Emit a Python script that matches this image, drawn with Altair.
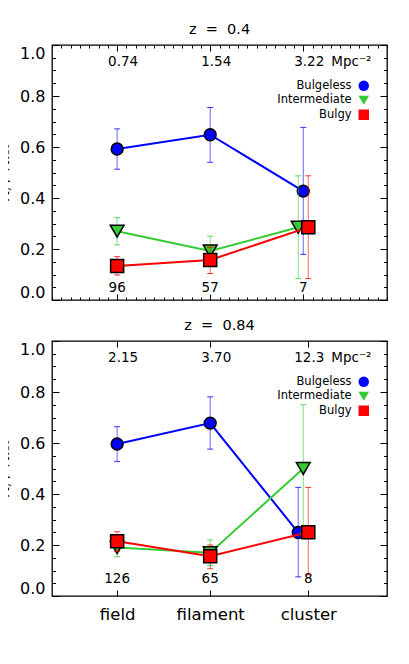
import altair as alt
import pandas as pd

series = ["Bulgeless", "Intermediate", "Bulgy"]
series_colors = ["#0000ff", "#33cc33", "#ff0000"]
series_shapes = ["circle", "triangle-down", "square"]
marker_sizes = [140, 190, 170]
categories = ["field", "filament", "cluster"]

# ---- z = 0.4 ----
z04_x_bulgeless = [1.0, 2.0, 3.0]
z04_y_bulgeless = [0.592, 0.648, 0.427]
z04_lo_bulgeless = [0.513, 0.540, 0.179]
z04_hi_bulgeless = [0.671, 0.755, 0.677]
z04_x_intermediate = [1.0, 2.0, 2.946]
z04_y_intermediate = [0.270, 0.192, 0.285]
z04_lo_intermediate = [0.216, 0.140, 0.084]
z04_hi_intermediate = [0.323, 0.250, 0.487]
z04_x_bulgy = [1.0, 2.0, 3.054]
z04_y_bulgy = [0.133, 0.157, 0.285]
z04_lo_bulgy = [0.098, 0.104, 0.084]
z04_hi_bulgy = [0.170, 0.207, 0.487]
z04_counts = ["96", "57", "7"]
z04_count_x = [1.0, 2.0, 3.0]
z04_density = ["0.74", "1.54", "3.22"]
z04_cat_x = [1.0, 2.0, 3.0]

# ---- z = 0.84 ----
z084_x_bulgeless = [1.0, 2.0, 2.946]
z084_y_bulgeless = [0.596, 0.678, 0.249]
z084_lo_bulgeless = [0.527, 0.576, 0.075]
z084_hi_bulgeless = [0.664, 0.781, 0.426]
z084_x_intermediate = [1.0, 2.0, 3.0]
z084_y_intermediate = [0.190, 0.170, 0.500]
z084_lo_intermediate = [0.154, 0.120, 0.250]
z084_hi_intermediate = [0.220, 0.220, 0.750]
z084_x_bulgy = [1.0, 2.0, 3.054]
z084_y_bulgy = [0.215, 0.156, 0.250]
z084_lo_bulgy = [0.175, 0.107, 0.083]
z084_hi_bulgy = [0.252, 0.200, 0.426]
z084_counts = ["126", "65", "8"]
z084_count_x = [1.0, 2.0, 3.054]
z084_density = ["2.15", "3.70", "12.3"]
z084_cat_x = [1.0, 2.0, 3.054]

density_x = [1.0, 2.0, 3.0]
density_unit = "Mpc\u207b\u00b2"
y_title = "N\u2c7c / N\u209c\u2092\u209c"

W, H = 335, 255
xsc = alt.Scale(domain=[0.3, 3.9], nice=False, zero=False)
ysc = alt.Scale(domain=[0.0, 1.0], nice=False, zero=False)

y_tick_vals = [round(i * 0.05, 2) for i in range(21)]
y_major = "abs(datum.value*5 - round(datum.value*5)) < 0.001"
x_minor_vals = [round(0.3 + i * 0.1, 2) for i in range(37)]


def frame_axes(df, cat_x, minor_x, show_labels):
    base = alt.Chart(df).mark_point(opacity=0)
    tick_common = dict(labels=False, domain=False, grid=False, title=None,
                       tickColor="black", tickWidth=1)
    yt = {"condition": {"test": y_major, "value": 7}, "value": 3.5}
    layers = []
    layers.append(base.encode(
        x=alt.X("x:Q", scale=xsc, axis=None),
        y=alt.Y("y:Q", scale=ysc, axis=alt.Axis(
            orient="left", values=[0, 0.2, 0.4, 0.6, 0.8, 1.0], format=".1f",
            ticks=False, tickSize=0, domain=False, grid=False, labelFlush=True,
            labelPadding=7, labelFontSize=16, labelColor="black",
            title=y_title, titleFontSize=16, titleFontWeight="normal",
            titlePadding=8, titleColor="black"))))
    layers.append(base.encode(
        x=alt.X("x:Q", scale=xsc, axis=None),
        y=alt.Y("y:Q", scale=ysc, axis=alt.Axis(
            orient="right", offset=-W, values=y_tick_vals, tickSize=yt, **tick_common))))
    layers.append(base.encode(
        x=alt.X("x:Q", scale=xsc, axis=None),
        y=alt.Y("y:Q", scale=ysc, axis=alt.Axis(
            orient="left", offset=-W, values=y_tick_vals, tickSize=yt, **tick_common))))
    if minor_x:
        xvals = sorted(set(x_minor_vals) | set(cat_x))
        cx = " || ".join(f"abs(datum.value - {v}) < 0.001" for v in cat_x)
        xt = {"condition": {"test": cx, "value": 6}, "value": 3}
    else:
        xvals = cat_x
        xt = 6
    layers.append(base.encode(
        y=alt.Y("y:Q", scale=ysc, axis=None),
        x=alt.X("x:Q", scale=xsc, axis=alt.Axis(
            orient="top", offset=-H, values=xvals, tickSize=xt, **tick_common))))
    layers.append(base.encode(
        y=alt.Y("y:Q", scale=ysc, axis=None),
        x=alt.X("x:Q", scale=xsc, axis=alt.Axis(
            orient="bottom", offset=-H, values=xvals, tickSize=xt, **tick_common))))
    if show_labels:
        expr = "datum.value < 1.5 ? '%s' : datum.value < 2.5 ? '%s' : '%s'" % tuple(categories)
        layers.append(base.encode(
            y=alt.Y("y:Q", scale=ysc, axis=None),
            x=alt.X("x:Q", scale=xsc, axis=alt.Axis(
                orient="bottom", values=cat_x, labelExpr=expr, ticks=False,
                tickSize=0, domain=False, grid=False, labelFlush=False,
                labelPadding=10, labelFontSize=16.5, labelColor="black",
                title=None))))
    return layers


def panel(title, data, counts, count_x, density, cat_x, count_y, minor_x, show_labels):
    dfs = []
    for s, (xs, ys, los, his) in zip(series, data):
        dfs.append(pd.DataFrame({"series": s, "x": xs, "y": ys, "lo": los, "hi": his}))
    legend = alt.Legend(orient="none", legendX=306, legendY=35, title=None,
                        labelAlign="right", labelOffset={"expr": "-18"}, labelFontSize=11.5,
                        labelColor="black", symbolSize=110, symbolStrokeWidth=0,
                        rowPadding=1.5)
    layers = frame_axes(dfs[0], cat_x, minor_x, show_labels)
    for df, color, shape, size in zip(dfs, series_colors, series_shapes, marker_sizes):
        c = alt.Chart(df)
        xe = alt.X("x:Q", scale=xsc, axis=None)
        layers.append(c.mark_rule(color=color, strokeWidth=1, opacity=0.6).encode(
            x=xe, y=alt.Y("lo:Q", scale=ysc, axis=None), y2="hi:Q"))
        layers.append(c.transform_fold(["lo", "hi"], as_=["k", "v"]).mark_tick(
            orient="horizontal", size=6, thickness=1, color=color, opacity=0.8).encode(
            x=xe, y=alt.Y("v:Q", scale=ysc, axis=None)))
        layers.append(c.mark_line(color=color, strokeWidth=2).encode(
            x=xe, y=alt.Y("y:Q", scale=ysc, axis=None)))
        layers.append(c.mark_point(filled=True, size=size, stroke="black",
                                   strokeWidth=1.5, opacity=1).encode(
            x=xe, y=alt.Y("y:Q", scale=ysc, axis=None),
            fill=alt.Fill("series:N", scale=alt.Scale(domain=series, range=series_colors), legend=legend),
            shape=alt.Shape("series:N", scale=alt.Scale(domain=series, range=series_shapes), legend=legend)))
    cdf = pd.DataFrame({"x": count_x, "label": counts})
    layers.append(alt.Chart(cdf).mark_text(fontSize=13.5, baseline="middle", color="black").encode(
        x=alt.X("x:Q", scale=xsc, axis=None),
        y=alt.YDatum(count_y, scale=ysc, axis=None), text="label:N"))
    ddf = pd.DataFrame({"x": density_x, "label": density})
    layers.append(alt.Chart(ddf).mark_text(fontSize=13.5, baseline="middle", color="black", dx=6).encode(
        x=alt.X("x:Q", scale=xsc, axis=None),
        y=alt.YDatum(0.935, scale=ysc, axis=None), text="label:N"))
    udf = pd.DataFrame({"x": [density_x[-1]], "label": [density_unit]})
    layers.append(alt.Chart(udf).mark_text(fontSize=13.5, baseline="middle", align="left",
                                           color="black", dx=28).encode(
        x=alt.X("x:Q", scale=xsc, axis=None),
        y=alt.YDatum(0.935, scale=ysc, axis=None), text="label:N"))
    return alt.layer(*layers).resolve_axis(x="independent", y="independent").properties(
        width=W, height=H,
        title=alt.TitleParams(title, fontSize=14.5, fontWeight="normal", offset=7.5,
                              baseline="top", frame="group", anchor="middle",
                              color="black"))


top = panel("z\u00a0\u00a0=\u00a0\u00a00.4",
            [(z04_x_bulgeless, z04_y_bulgeless, z04_lo_bulgeless, z04_hi_bulgeless),
             (z04_x_intermediate, z04_y_intermediate, z04_lo_intermediate, z04_hi_intermediate),
             (z04_x_bulgy, z04_y_bulgy, z04_lo_bulgy, z04_hi_bulgy)],
            z04_counts, z04_count_x, z04_density, z04_cat_x, 0.046, True, False)
bottom = panel("z\u00a0\u00a0=\u00a0\u00a00.84",
               [(z084_x_bulgeless, z084_y_bulgeless, z084_lo_bulgeless, z084_hi_bulgeless),
                (z084_x_intermediate, z084_y_intermediate, z084_lo_intermediate, z084_hi_intermediate),
                (z084_x_bulgy, z084_y_bulgy, z084_lo_bulgy, z084_hi_bulgy)],
               z084_counts, z084_count_x, z084_density, z084_cat_x, 0.065, False, True)

chart = alt.vconcat(top, bottom, spacing=14).resolve_scale(
    fill="independent", shape="independent").resolve_legend(
    fill="independent", shape="independent").properties(
    padding={"left": -14, "top": 12, "right": 5, "bottom": 5},
    autosize=alt.AutoSizeParams(type="pad")).configure(
    font="DejaVu Sans").configure_view(stroke="black", strokeWidth=1.3)

chart.save("out.html", embed_options={"renderer": "svg", "actions": False})
